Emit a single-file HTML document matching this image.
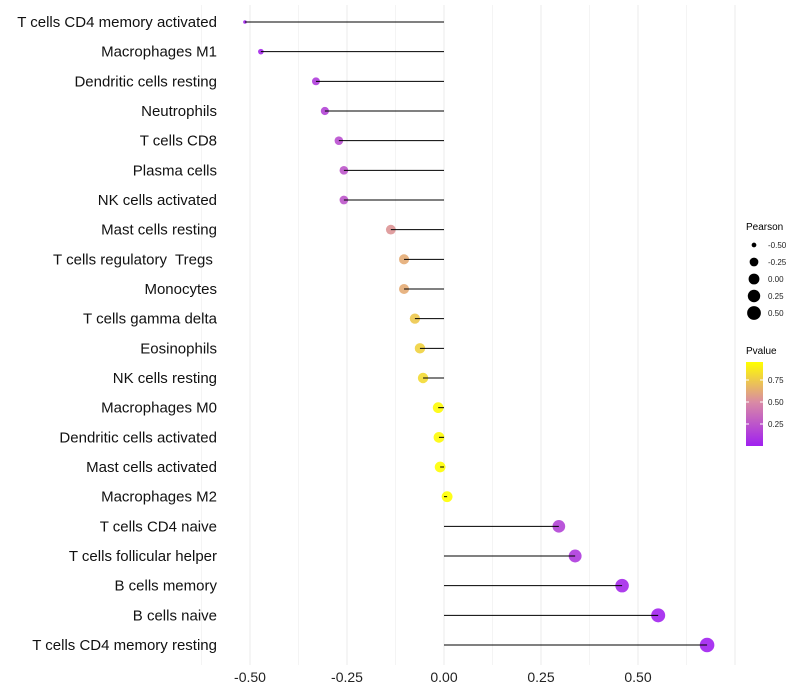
<!DOCTYPE html>
<html><head><meta charset="utf-8"><style>
html,body{margin:0;padding:0;background:#fff;width:800px;height:700px;overflow:hidden;font-family:"Liberation Sans",sans-serif}
text{white-space:pre}
</style></head><body>
<svg id="chart" width="800" height="700" xmlns="http://www.w3.org/2000/svg">
<defs><linearGradient id="pg" x1="0" y1="1" x2="0" y2="0">
<stop offset="0" stop-color="#a020f0"/><stop offset="0.52" stop-color="#d98aa5"/><stop offset="1" stop-color="#ffff00"/>
</linearGradient></defs>
<g id="grid"></g>
<g id="marks"></g>
<g id="ylabels"></g>
<g id="xlabels"></g>
<g id="legP">
<text x="746" y="230" font-size="10" fill="#000">Pearson</text>
</g>
<g id="legV">
<text x="746" y="354" font-size="10" fill="#000">Pvalue</text>
<rect x="746" y="362" width="17" height="84" fill="url(#pg)"/>
</g>
</svg>
<script>
const categories=["T cells CD4 memory activated","Macrophages M1","Dendritic cells resting","Neutrophils","T cells CD8","Plasma cells","NK cells activated","Mast cells resting","T cells regulatory  Tregs ","Monocytes","T cells gamma delta","Eosinophils","NK cells resting","Macrophages M0","Dendritic cells activated","Mast cells activated","Macrophages M2","T cells CD4 naive","T cells follicular helper","B cells memory","B cells naive","T cells CD4 memory resting"];
const pearson=[-0.513,-0.472,-0.330,-0.307,-0.271,-0.258,-0.258,-0.137,-0.103,-0.103,-0.075,-0.062,-0.054,-0.015,-0.013,-0.010,0.008,0.296,0.338,0.459,0.552,0.678];
const pvalue=[0.02,0.04,0.13,0.17,0.22,0.25,0.25,0.54,0.63,0.63,0.74,0.78,0.81,0.94,0.94,0.95,0.955,0.17,0.12,0.04,0.015,0.005];
const xTicks=[-0.5,-0.25,0,0.25,0.5];
const xTickLabels=["-0.50","-0.25","0.00","0.25","0.50"];
const sizeBreaks=[-0.5,-0.25,0,0.25,0.5];
const sizeLabels=["-0.50","-0.25","0.00","0.25","0.50"];
const colorBreaks=[0.25,0.5,0.75];
const colorLabels=["0.25","0.50","0.75"];
const NS="http://www.w3.org/2000/svg";
const x=v=>444+v*388;
const y=i=>22+i*(623/21);
const pmin=Math.min(...pearson),pmax=Math.max(...pearson);
const r=v=>{const t=Math.max(0,Math.min(1,(v-pmin)/(pmax-pmin)));return 0.7+1.1*(1+5*Math.sqrt(t));};
const cy=p=>446-p*88;
function hex(c){return c.match(/\w\w/g).map(h=>parseInt(h,16));}
const stops=[[0,hex("a020f0")],[0.497,hex("d98aa5")],[0.955,hex("ffff00")]];
function col(p){p=Math.max(0,Math.min(0.955,p));for(let k=0;k<stops.length-1;k++){const a=stops[k],b=stops[k+1];if(p<=b[0]){const t=(p-a[0])/(b[0]-a[0]);return "rgb("+a[1].map((c,j)=>Math.round(c+(b[1][j]-c)*t)).join(",")+")";}}return "rgb(255,255,0)";}
function mk(tag,at,parent){const e=document.createElementNS(NS,tag);for(const k in at)e.setAttribute(k,at[k]);parent.appendChild(e);return e;}
const grid=document.getElementById('grid'),marks=document.getElementById('marks'),yl=document.getElementById('ylabels'),xl=document.getElementById('xlabels');
for(let k=-5;k<=6;k++){const v=k*0.125;const g=mk('line',{x1:x(v),x2:x(v),y1:5,y2:665,stroke:k%2===0?'#ebebeb':'#f4f4f4','stroke-width':1},grid);

}
xTicks.forEach((v,i)=>{const t=mk('text',{x:x(v),y:682,'font-size':14,'text-anchor':'middle',fill:'#222'},xl);t.textContent=xTickLabels[i];

});
categories.forEach((c,i)=>{
const t=mk('text',{x:217,y:y(i)+5,'font-size':15,'text-anchor':'end',fill:'#111'},yl);t.textContent=c;


const d=mk('circle',{cx:x(pearson[i]),cy:y(i),r:r(pearson[i]),fill:col(pvalue[i]),'fill-opacity':0.9},marks);


const l=mk('line',{x1:x(0),x2:x(pearson[i]),y1:y(i),y2:y(i),stroke:'#000','stroke-width':1},marks);


});
const lp=document.getElementById('legP');
sizeBreaks.forEach((v,i)=>{const yy=245+i*17;
const c=mk('circle',{cx:754,cy:yy,r:r(v),fill:'#000'},lp);


const t=mk('text',{x:768,y:yy+3,'font-size':8,fill:'#222'},lp);t.textContent=sizeLabels[i];

});
const lv=document.getElementById('legV');
colorBreaks.forEach((v,i)=>{const yy=cy(v);
const a=mk('line',{x1:746,x2:749,y1:yy,y2:yy,stroke:'#fff'},lv);


const b=mk('line',{x1:760,x2:763,y1:yy,y2:yy,stroke:'#fff'},lv);


const t=mk('text',{x:768,y:yy+3,'font-size':8,fill:'#222'},lv);t.textContent=colorLabels[i];

});
</script>
</body></html>
